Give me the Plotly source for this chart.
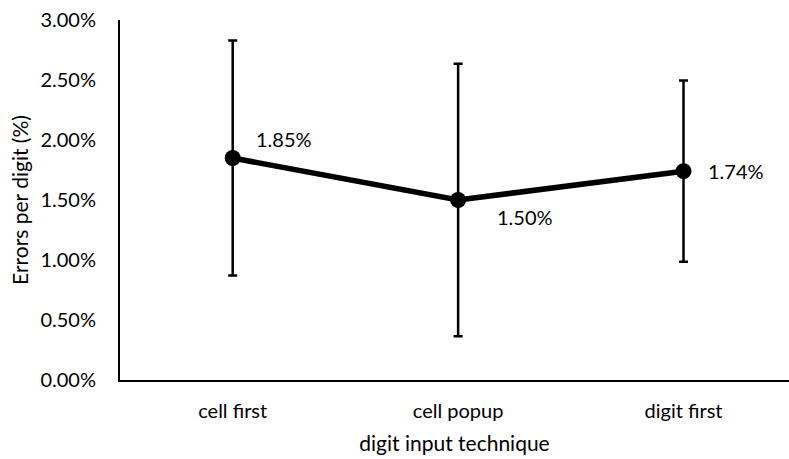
import plotly.graph_objects as go

categories = ["cell first", "cell popup", "digit first"]
values = [1.85, 1.50, 1.74]
err = [0.98, 1.135, 0.755]
yticks = [0, 0.5, 1.0, 1.5, 2.0, 2.5, 3.0]
ytick_text = ["0.00%", "0.50%", "1.00%", "1.50%", "2.00%", "2.50%", "3.00%"]
label_shift = [(21, 19), (37, -17), (22, 0)]

FONT = "Lato"
FS = 20
fig = go.Figure()
fig.add_trace(go.Scatter(
    x=categories, y=values, mode="lines+markers",
    line=dict(color="black", width=5.5),
    marker=dict(color="black", size=16),
    error_y=dict(type="data", array=err, visible=True, color="black",
                 thickness=2.5, width=4.5),
    showlegend=False, hoverinfo="skip",
))
for c, v, (dx, dy) in zip(categories, values, label_shift):
    fig.add_annotation(x=c, y=v, text=f"{v:.2f}%", showarrow=False,
                       xanchor="left", yanchor="middle", xshift=dx, yshift=dy,
                       font=dict(family=FONT, size=FS, color="black"))

fig.update_layout(
    width=789, height=459,
    margin=dict(l=120, r=0, t=20, b=79),
    paper_bgcolor="white", plot_bgcolor="white",
    font=dict(family=FONT, size=FS, color="black"),
    xaxis=dict(range=[-0.5, 2.468], showgrid=False, zeroline=False,
               showline=True, linecolor="black", linewidth=2,
               ticks="outside", ticklen=12, tickcolor="rgba(0,0,0,0)",
               title=dict(text="digit input technique", standoff=15,
                          font=dict(family=FONT, size=21))),
    yaxis=dict(range=[0, 3], tickvals=yticks, ticktext=ytick_text,
               showgrid=False, zeroline=False,
               showline=True, linecolor="black", linewidth=2,
               ticks="outside", ticklen=18, tickcolor="rgba(0,0,0,0)",
               title=dict(text="Errors per digit (%)", standoff=6,
                          font=dict(family=FONT, size=21))),
)
fig.write_html("out.html")
